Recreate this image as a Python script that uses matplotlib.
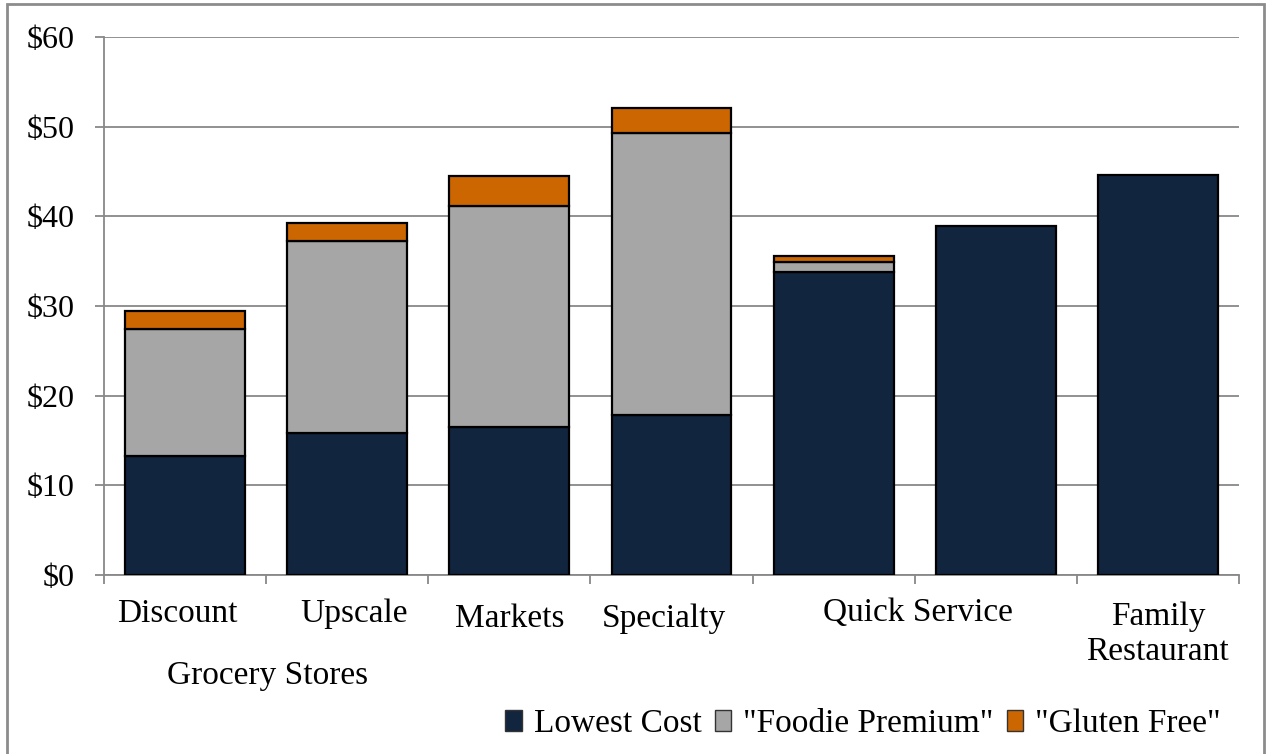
import numpy as np
import matplotlib
matplotlib.use("Agg")
import matplotlib.pyplot as plt
import matplotlib.patches as mpatches
import matplotlib.transforms as mtransforms

plt.rcParams.update({
    "font.family": "Liberation Serif",
    "axes.spines.top": False,
    "axes.spines.right": False,
})

# ---------------------------------------------------------------------------
# Datos
# ---------------------------------------------------------------------------
lowest_cost = [13.3, 15.8, 16.5, 17.8, 33.8, 38.9, 44.6]
foodie_premium = [14.1, 21.5, 24.7, 31.5, 1.1, 0.0, 0.0]
gluten_free = [2.0, 2.0, 3.3, 2.75, 0.7, 0.0, 0.0]

# Etiquetas del eje x (colocadas a mano como en el original)
x_labels = ["Discount", "Upscale", "Markets", "Specialty", "Quick Service", "Family\nRestaurant"]
x_label_pos = [-0.05, 1.04, 2.0, 2.95, 4.52, 6.0]
x_label_y = [0.186, 0.186, 0.180, 0.180, 0.187, 0.1585]
group_label = "Grocery Stores"
group_label_pos = 0.51

series_names = ["Lowest Cost", '"Foodie Premium"', '"Gluten Free"']
COLORS = ["#12253F", "#A6A6A6", "#CC6600"]
GRID = "#888888"

# ---------------------------------------------------------------------------
# Figura
# ---------------------------------------------------------------------------
fig = plt.figure(figsize=(12.66, 7.54), dpi=100)
ax = fig.add_axes([104 / 1266, 1 - 575 / 754, 1135 / 1266, 538 / 754])

x = np.arange(len(lowest_cost))
bottom = np.zeros(len(x))
handles = []
for vals, color, name in zip([lowest_cost, foodie_premium, gluten_free], COLORS, series_names):
    vals = np.array(vals)
    bars = ax.bar(x, vals, width=0.74, bottom=bottom, color=color,
                  edgecolor="black", linewidth=1.6, zorder=3, label=name)
    for patch, v in zip(bars.patches, vals):
        if v <= 0:
            patch.set_visible(False)
    bottom += vals
    handles.append(mpatches.Patch(facecolor=color, edgecolor="#333333", linewidth=1.0, label=name))

ax.set_xlim(-0.5, 6.5)
ax.set_ylim(0, 60)
ax.set_yticks(np.arange(0, 61, 10))
ax.set_yticklabels([f"${v}" for v in range(0, 61, 10)])
ax.set_xticks(np.arange(-0.5, 7, 1))
ax.set_xticklabels([])
ax.yaxis.grid(True, color=GRID, linewidth=1.3)
ax.set_axisbelow(True)
for s in ("left", "bottom"):
    ax.spines[s].set_color(GRID)
    ax.spines[s].set_linewidth(1.3)
ax.tick_params(axis="y", length=6.5, width=1.3, color=GRID, pad=15, labelsize=23)
ax.tick_params(axis="x", length=6.5, width=1.3, color=GRID)

trans = mtransforms.blended_transform_factory(ax.transData, fig.transFigure)
for lab, xp, yp in zip(x_labels, x_label_pos, x_label_y):
    ax.text(xp, yp, lab, transform=trans, ha="center", va="center",
            fontsize=24, linespacing=1.2, clip_on=False)
ax.text(group_label_pos, 1 - 676 / 754, group_label, transform=trans,
        ha="center", va="center", fontsize=24, clip_on=False)

fig.legend(handles=handles, loc="center", bbox_to_anchor=(863 / 1266, 1 - 724 / 754),
           ncol=3, frameon=False, fontsize=24, handlelength=0.5, handleheight=0.55,
           handletextpad=0.35, columnspacing=0.4, borderpad=0)

# Marco exterior
fig.add_artist(mpatches.Rectangle((7 / 1266, -0.01), 1 - 9 / 1266, 1 - 4 / 754 + 0.01,
                                  transform=fig.transFigure, fill=False,
                                  edgecolor="#8C8C8C", linewidth=2))

fig.savefig("out.png", dpi=100)
